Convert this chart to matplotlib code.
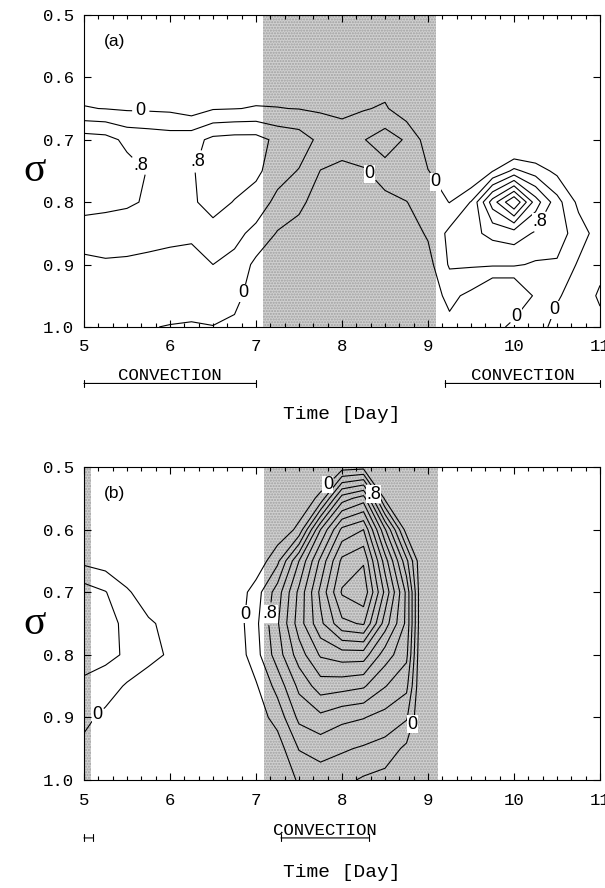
import matplotlib
matplotlib.use("Agg")
import matplotlib.pyplot as plt
import numpy as np

# grid: time (days) x sigma
time = [5.0, 5.25, 5.5, 5.75, 6.0, 6.25, 6.5, 6.75, 7.0, 7.25, 7.5, 7.75, 8.0,
        8.25, 8.5, 8.75, 9.0, 9.25, 9.5, 9.75, 10.0, 10.25, 10.5, 10.75, 11.0]
sigma = [0.50, 0.55, 0.60, 0.65, 0.70, 0.75, 0.80, 0.85, 0.90, 0.95, 1.00]

# panel (a): one column per time, values from sigma=0.5 down to 1.0
cols_a = [
    [-0.2, -0.2, -0.2, 0.02, 1.0, 1.05, 0.95, 0.6, 0.3, 0.2, 0.1],
    [-0.2, -0.2, -0.2, -0.01, 0.95, 1.0, 0.9, 0.6, 0.35, 0.25, 0.1],
    [-0.2, -0.2, -0.25, -0.05, 0.7, 0.95, 0.85, 0.6, 0.33, 0.2, 0.1],
    [-0.2, -0.2, -0.25, -0.06, 0.65, 0.78, 0.76, 0.55, 0.3, 0.15, 0.01],
    [-0.2, -0.2, -0.25, -0.08, 0.6, 0.7, 0.7, 0.48, 0.3, 0.12, -0.01],
    [-0.2, -0.25, -0.3, -0.2, 0.65, 0.76, 0.74, 0.45, 0.3, 0.1, -0.02],
    [-0.2, -0.2, -0.2, -0.03, 0.9, 1.0, 0.95, 0.65, 0.4, 0.2, -0.01],
    [-0.2, -0.2, -0.2, -0.01, 0.95, 1.0, 0.78, 0.5, 0.3, 0.15, -0.1],
    [-0.2, -0.2, -0.2, 0.02, 0.95, 0.9, 0.6, 0.3, -0.1, -0.25, -0.3],
    [-0.2, -0.2, -0.2, 0.01, 0.7, 0.55, 0.3, -0.03, -0.2, -0.3, -0.35],
    [-0.2, -0.2, -0.2, -0.01, 0.6, 0.38, 0.1, -0.15, -0.3, -0.35, -0.4],
    [-0.2, -0.2, -0.2, -0.05, 0.3, -0.01, -0.2, -0.3, -0.35, -0.4, -0.4],
    [-0.3, -0.3, -0.3, -0.1, 0.2, -0.1, -0.3, -0.4, -0.45, -0.45, -0.45],
    [-0.2, -0.2, -0.2, -0.03, 0.38, -0.05, -0.3, -0.4, -0.45, -0.45, -0.45],
    [-0.2, -0.2, -0.2, 0.05, 0.6, 0.25, -0.15, -0.3, -0.4, -0.4, -0.4],
    [-0.3, -0.3, -0.3, -0.25, 0.35, 0.3, -0.01, -0.2, -0.3, -0.35, -0.35],
    [-0.3, -0.3, -0.3, -0.3, -0.2, 0.01, 0.2, 0.05, -0.15, -0.2, -0.25],
    [-0.3, -0.3, -0.3, -0.3, -0.3, -0.2, -0.01, 0.5, 0.45, 0.1, -0.1],
    [-0.3, -0.3, -0.3, -0.3, -0.4, -0.5, 0.42, 0.7, 0.45, -0.1, -0.2],
    [-0.3, -0.3, -0.3, -0.3, -0.4, -0.02, 1.8, 0.9, 0.45, -0.6, -0.3],
    [-0.3, -0.3, -0.3, -0.3, -0.8, 0.5, 2.8, 1.0, 0.45, -0.6, 0.2],
    [-0.3, -0.3, -0.3, -0.3, -0.6, 0.2, 1.4, 0.75, 0.35, 0.1, 0.2],
    [-0.3, -0.3, -0.3, -0.3, -0.4, -0.1, 0.55, 0.6, 0.35, 0.05, -0.15],
    [-0.3, -0.3, -0.3, -0.3, -0.3, -0.3, -0.1, 0.2, -0.05, -0.2, -0.3],
    [-0.3, -0.3, -0.3, -0.3, -0.3, -0.3, -0.3, -0.2, -0.1, 0.05, -0.1],
]

# panel (b)
cols_b = [
    [-0.3, -0.3, -0.3, -0.1, 0.6, 0.7, 0.6, 0.3, 0.1, -0.1, -0.2],
    [-0.3, -0.3, -0.3, -0.2, 0.42, 0.55, 0.5, 0.2, -0.1, -0.2, -0.3],
    [-0.3, -0.3, -0.3, -0.3, 0.05, 0.3, 0.35, -0.05, -0.2, -0.3, -0.3],
    [-0.3, -0.3, -0.3, -0.3, -0.2, 0.05, 0.12, -0.2, -0.3, -0.3, -0.3],
    [-0.3, -0.3, -0.3, -0.3, -0.3, -0.1, -0.05, -0.3, -0.3, -0.3, -0.3],
    [-0.3, -0.3, -0.3, -0.3, -0.3, -0.3, -0.3, -0.3, -0.3, -0.3, -0.3],
    [-0.3, -0.3, -0.3, -0.3, -0.3, -0.3, -0.3, -0.3, -0.3, -0.3, -0.3],
    [-0.4, -0.4, -0.4, -0.35, -0.3, -0.25, -0.3, -0.35, -0.4, -0.4, -0.4],
    [-0.4, -0.4, -0.3, -0.3, 0.2, 0.3, 0.25, -0.05, -0.2, -0.3, -0.35],
    [-0.4, -0.3, -0.3, 0.3, 1.0, 1.15, 1.0, 0.55, 0.15, -0.2, -0.3],
    [-0.4, -0.3, 0.1, 1.6, 2.1, 2.2, 1.8, 1.3, 0.9, 0.42, 0.05],
    [-0.4, 0.1, 2.0, 2.9, 3.3, 3.1, 2.45, 1.8, 1.1, 0.55, 0.2],
    [-0.2, 1.8, 3.3, 4.1, 4.45, 3.9, 2.6, 1.75, 0.9, 0.45, 0.1],
    [-0.15, 2.2, 3.6, 4.35, 4.7, 4.05, 2.6, 1.65, 0.82, 0.35, -0.05],
    [-0.4, -0.1, 1.65, 2.6, 3.1, 2.6, 1.8, 1.22, 0.65, 0.25, -0.15],
    [-0.5, -0.4, -0.2, 0.9, 1.5, 1.5, 1.3, 0.9, 0.45, -0.1, -0.3],
    [-0.5, -0.5, -0.6, -0.9, -1.2, -1.2, -1.2, -1.0, -0.8, -0.5, -0.4],
    [-0.4] * 11, [-0.4] * 11, [-0.4] * 11, [-0.4] * 11,
    [-0.4] * 11, [-0.4] * 11, [-0.4] * 11, [-0.4] * 11,
]

levels = np.round(np.arange(0, 5.0, 0.4), 1)

shade_a = [(7.08, 9.09)]
shade_b = [(5.0, 5.08), (7.09, 9.12)]
conv_a = [(5.0, 7.0), (9.2, 11.0)]
conv_b = [(5.0, 5.1), (7.29, 8.31)]

# where the few contour labels sit (time, sigma)
zero_pos_a = [(5.66, 0.655), (6.85, 0.945), (8.36, 0.75), (9.06, 0.77), (10.0, 0.98), (10.42, 0.97)]
eight_pos_a = [(5.63, 0.745), (6.33, 0.735), (10.35, 0.835)]
zero_pos_b = [(7.85, 0.53), (6.88, 0.735), (8.8, 0.91), (5.19, 0.9)]
eight_pos_b = [(8.4, 0.54), (7.2, 0.735)]

mono = "Liberation Mono"
sans = "Liberation Sans"


def fmt(v):
    if v == 0:
        return "0"
    return ("%.1f" % v).lstrip("0")


def panel(ax, cols, shades, conv, zero_pos, eight_pos, tag, cap_y, text_y, time_y):
    Z = np.array(cols).T
    for a, b in shades:
        ax.axvspan(a, b, facecolor="#d0d0d0", edgecolor="#a0a0a0", hatch="......", lw=0, zorder=0)
    other = [lv for lv in levels if lv not in (0.0, 0.8)]
    ax.contour(time, sigma, Z, levels=other, colors="black", linewidths=0.8)
    # labelled levels get their own sets so clabel can place them by hand
    for lev, pos in ((0.0, zero_pos), (0.8, eight_pos)):
        cs = ax.contour(time, sigma, Z, levels=[lev], colors="black", linewidths=0.8)
        txts = ax.clabel(cs, manual=pos, fmt=fmt, fontsize=13, inline=True, inline_spacing=3)
        for t in txts:
            t.set_rotation(0)
            t.set_family(sans)
            t.set_bbox(dict(facecolor="white", edgecolor="none", pad=0.3))

    ax.set_xlim(5, 11)
    ax.set_ylim(1.0, 0.5)
    ax.set_xticks(range(5, 12))
    ax.set_xticks(np.arange(5, 11.01, 1 / 6), minor=True)
    ax.set_yticks([0.5, 0.6, 0.7, 0.8, 0.9, 1.0])
    ax.set_yticklabels(["%.1f" % v for v in [0.5, 0.6, 0.7, 0.8, 0.9, 1.0]])
    ax.tick_params(which="both", direction="in", top=True, right=True, width=0.8)
    ax.tick_params(which="major", length=5)
    ax.tick_params(which="minor", length=3)
    ax.tick_params(axis="x", pad=9)
    ax.tick_params(axis="y", pad=7)
    for lab in ax.get_xticklabels() + ax.get_yticklabels():
        lab.set_family(mono)
        lab.set_fontsize(12.5)

    ax.text(0.06, 0.915, tag, transform=ax.transAxes, fontsize=12.5, family=sans, ha="center", va="center")
    ax.text(-0.095, 0.5, "σ", transform=ax.transAxes, fontsize=30, family="Liberation Serif",
            ha="center", va="center")

    trans = ax.get_xaxis_transform()
    for a, b in conv:
        ax.annotate("", xy=(a, cap_y), xytext=(b, cap_y), xycoords=trans, textcoords=trans,
                    arrowprops=dict(arrowstyle="|-|,widthA=0.25,widthB=0.25", lw=0.8,
                                    shrinkA=0, shrinkB=0, color="black"), annotation_clip=False)
        if b - a > 0.5:
            ax.text((a + b) / 2, text_y, "CONVECTION", transform=trans, family=mono,
                    fontsize=12.5, ha="center", va="center", clip_on=False)
    ax.text(0.5, time_y, "Time [Day]", transform=ax.transAxes, family=mono, fontsize=14,
            ha="center", va="center")


fig = plt.figure(figsize=(6.05, 8.88), dpi=100)
ax1 = fig.add_axes([0.1388, 0.6318, 0.853, 0.3514])
ax2 = fig.add_axes([0.1388, 0.1216, 0.853, 0.3525])

panel(ax1, cols_a, shade_a, conv_a, zero_pos_a, eight_pos_a, "(a)", -0.181, -0.156, -0.282)
panel(ax2, cols_b, shade_b, conv_b, zero_pos_b, eight_pos_b, "(b)", -0.185, -0.16, -0.297)

plt.savefig("out.png", dpi=100)
